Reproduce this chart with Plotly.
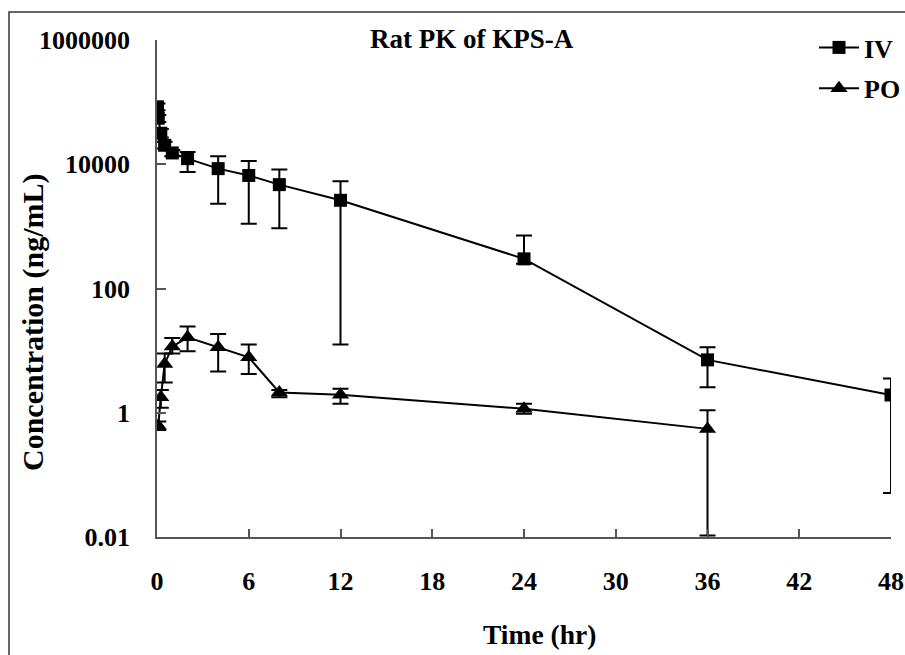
import plotly.graph_objects as go

# ---- data ----
times_iv = [0.033, 0.083, 0.25, 0.5, 1, 2, 4, 6, 8, 12, 24, 36, 48]
conc_iv = [84000, 55000, 31600, 20200, 15200, 12300, 8500, 6600, 4700, 2630, 300, 7.1, 1.93]
err_plus_iv = [11000, 7000, 5400, 2800, 1800, 3500, 5000, 4700, 3500, 2690, 416, 4.2, 1.64]
err_minus_iv = [10000, 7000, 4600, 2200, 1700, 4800, 6180, 5500, 3765, 2617.5, 50, 4.53, 1.879]

times_po = [0.083, 0.25, 0.5, 1, 2, 4, 6, 8, 12, 24, 36]
conc_po = [0.62, 1.77, 6.1, 11.6, 16.4, 11.3, 7.8, 2.12, 1.95, 1.16, 0.55]
err_plus_po = [0.1, 0.55, 2.85, 4.4, 8.0, 7.3, 4.7, 0.2, 0.49, 0.24, 0.55]
err_minus_po = [0.09, 0.57, 3.02, 2.6, 6.65, 6.7, 3.6, 0.35, 0.55, 0.2, 0.5394]

x_ticks = [0, 6, 12, 18, 24, 30, 36, 42, 48]
y_ticks = [0.01, 1, 100, 10000, 1000000]
y_tick_text = ["0.01", "1", "100", "10000", "1000000"]

title_text = "Rat PK of KPS-A"
x_title = "Time (hr)"
y_title = "Concentration (ng/mL)"

# ---- layout constants ----
WIDTH, HEIGHT = 905, 655
L, R, T, B = 157, 14, 40, 118
PW = WIDTH - L - R
PH = HEIGHT - T - B
FONT = "Liberation Serif, Times New Roman, serif"


def px_x(px):
    return (px - L) / PW


def px_y(py):
    return (HEIGHT - B - py) / PH


fig = go.Figure()

fig.add_trace(go.Scatter(
    x=times_iv, y=conc_iv, name="IV", mode="lines+markers",
    line=dict(color="black", width=2),
    marker=dict(symbol="square", size=13, color="black"),
    error_y=dict(type="data", array=err_plus_iv, arrayminus=err_minus_iv,
                 color="black", thickness=2, width=8, symmetric=False),
    legendgroup="iv",
))
fig.add_trace(go.Scatter(
    x=times_po, y=conc_po, name="PO", mode="lines+markers",
    line=dict(color="black", width=2),
    marker=dict(symbol="triangle-up", size=15, color="black"),
    error_y=dict(type="data", array=err_plus_po, arrayminus=err_minus_po,
                 color="black", thickness=2, width=8, symmetric=False),
    legendgroup="po",
))

axis_color = "#555555"
fig.update_xaxes(
    range=[0, 48], tickvals=x_ticks, ticks="inside", ticklen=8, tickwidth=1.5,
    tickcolor=axis_color, showline=True, linecolor=axis_color, linewidth=1.5,
    showgrid=False, zeroline=False, ticklabelstandoff=20, automargin=False,
    ticklabeloverflow="allow",
    tickfont=dict(family=FONT, size=26, color="black", weight="bold"),
)
fig.update_yaxes(
    type="log", range=[-2, 6], tickvals=y_ticks, ticktext=y_tick_text,
    ticks="inside", ticklen=9, tickwidth=1.5, tickcolor=axis_color,
    showline=True, linecolor=axis_color, linewidth=1.5,
    showgrid=False, zeroline=False, ticklabelstandoff=20, automargin=False,
    ticklabeloverflow="allow",
    tickfont=dict(family=FONT, size=26, color="black", weight="bold"),
)

fig.update_layout(
    width=WIDTH, height=HEIGHT,
    margin=dict(l=L, r=R, t=T, b=B, pad=0, autoexpand=False),
    paper_bgcolor="white", plot_bgcolor="white",
    showlegend=True,
    legend=dict(
        x=px_x(906), xanchor="right", y=px_y(24), yanchor="top",
        font=dict(family=FONT, size=26, color="black", weight="bold"),
        bgcolor="rgba(0,0,0,0)", traceorder="grouped", tracegroupgap=4,
        itemwidth=40,
    ),
    annotations=[
        dict(text=title_text, x=px_x(472), y=px_y(39), xref="paper", yref="paper",
             showarrow=False, xanchor="center", yanchor="middle",
             font=dict(family=FONT, size=27, color="black", weight="bold")),
        dict(text=x_title, x=px_x(539), y=px_y(634), xref="paper", yref="paper",
             showarrow=False, xanchor="center", yanchor="middle",
             font=dict(family=FONT, size=27.5, color="black", weight="bold")),
        dict(text=y_title, x=px_x(33), y=px_y(323), xref="paper", yref="paper",
             showarrow=False, xanchor="center", yanchor="middle", textangle=-90,
             font=dict(family=FONT, size=30, color="black", weight="bold")),
    ],
    shapes=[
        dict(type="rect", xref="paper", yref="paper",
             x0=px_x(9), x1=px_x(915), y0=px_y(670), y1=px_y(12),
             line=dict(color="#333333", width=1.5), fillcolor="rgba(0,0,0,0)",
             layer="below"),
    ],
)

fig.write_html(
    "out.html",
    config={"displayModeBar": False},
    post_script="document.body.style.margin='0';document.body.style.overflow='hidden';",
)
